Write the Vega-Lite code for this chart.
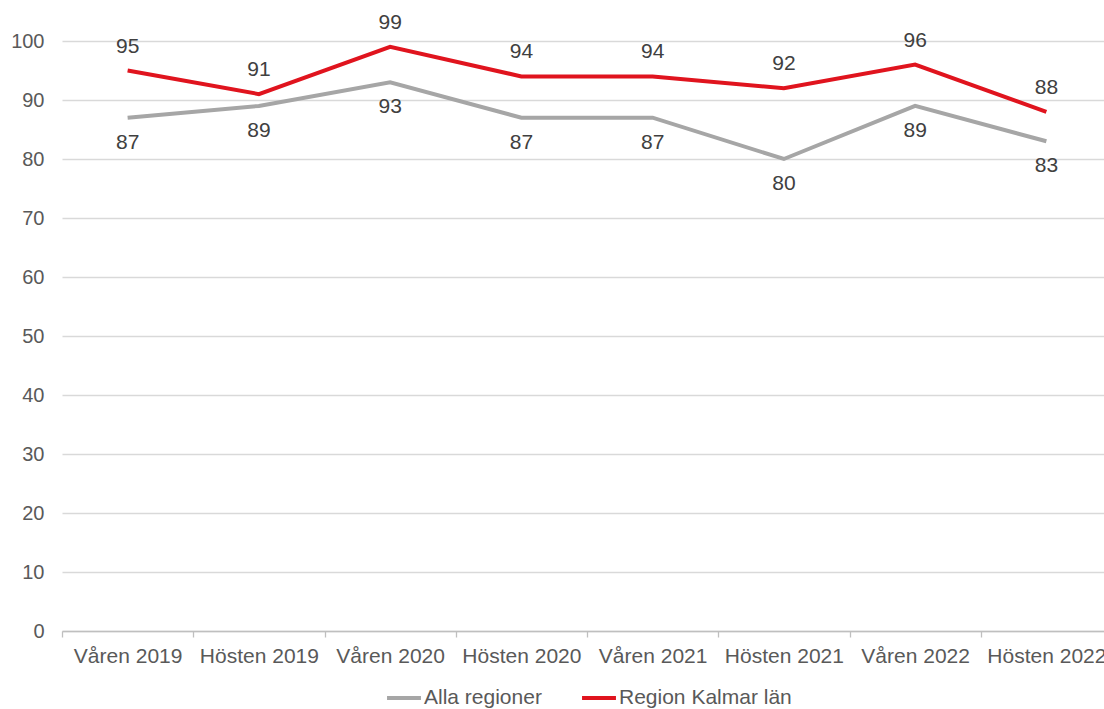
{
  "$schema": "https://vega.github.io/schema/vega-lite/v6.json",
  "autosize": {"type": "none"},
  "width": 1050,
  "height": 590,
  "padding": {"left": 62, "top": 41, "right": 0, "bottom": 78},
  "background": "white",
  "config": {
    "font": "Liberation Sans",
    "view": {"stroke": null},
    "axis": {"labelFont": "Liberation Sans", "labelColor": "#595959", "labelFontSize": 21, "title": null}
  },
  "data": {
    "values": [
      {"period": "Våren 2019", "series": "Alla regioner", "value": 87},
      {"period": "Hösten 2019", "series": "Alla regioner", "value": 89},
      {"period": "Våren 2020", "series": "Alla regioner", "value": 93},
      {"period": "Hösten 2020", "series": "Alla regioner", "value": 87},
      {"period": "Våren 2021", "series": "Alla regioner", "value": 87},
      {"period": "Hösten 2021", "series": "Alla regioner", "value": 80},
      {"period": "Våren 2022", "series": "Alla regioner", "value": 89},
      {"period": "Hösten 2022", "series": "Alla regioner", "value": 83},
      {"period": "Våren 2019", "series": "Region Kalmar län", "value": 95},
      {"period": "Hösten 2019", "series": "Region Kalmar län", "value": 91},
      {"period": "Våren 2020", "series": "Region Kalmar län", "value": 99},
      {"period": "Hösten 2020", "series": "Region Kalmar län", "value": 94},
      {"period": "Våren 2021", "series": "Region Kalmar län", "value": 94},
      {"period": "Hösten 2021", "series": "Region Kalmar län", "value": 92},
      {"period": "Våren 2022", "series": "Region Kalmar län", "value": 96},
      {"period": "Hösten 2022", "series": "Region Kalmar län", "value": 88}
    ]
  },
  "encoding": {
    "x": {
      "field": "period", "type": "ordinal", "sort": null,
      "scale": {"paddingInner": 0, "paddingOuter": 0},
      "axis": {"labelAngle": 0, "domainColor": "#BFBFBF", "domainWidth": 1.3, "tickColor": "#BFBFBF", "tickWidth": 1.3, "tickSize": 6, "tickBand": "extent", "labelPadding": 8, "grid": false}
    },
    "y": {
      "field": "value", "type": "quantitative",
      "scale": {"domain": [0, 100], "nice": false},
      "axis": {"values": [0,10,20,30,40,50,60,70,80,90,100], "domain": false, "ticks": false, "labelPadding": 18, "gridColor": "#D9D9D9", "gridWidth": 1.3, "labelFontSize": 20}
    }
  },
  "layer": [
    {
      "mark": {"type": "line", "strokeWidth": 4},
      "encoding": {
        "color": {
          "field": "series", "type": "nominal",
          "scale": {"domain": ["Alla regioner", "Region Kalmar län"], "range": ["#A6A6A6", "#E0141E"]},
          "legend": {
            "title": null, "orient": "none", "direction": "horizontal",
            "legendX": 323, "legendY": 638,
            "symbolType": "stroke", "symbolSize": 1150, "symbolStrokeWidth": 4,
            "labelFontSize": 21, "labelColor": "#595959", "labelFont": "Liberation Sans",
            "labelLimit": 400, "columnPadding": 32, "labelOffset": 1
          }
        }
      }
    },
    {
      "transform": [{"filter": "datum.series === 'Alla regioner'"}],
      "mark": {"type": "text", "dy": 25, "fontSize": 21, "color": "#404040"},
      "encoding": {"text": {"field": "value", "type": "quantitative"}}
    },
    {
      "transform": [{"filter": "datum.series === 'Region Kalmar län'"}],
      "mark": {"type": "text", "dy": -24, "fontSize": 21, "color": "#404040"},
      "encoding": {"text": {"field": "value", "type": "quantitative"}}
    }
  ]
}
